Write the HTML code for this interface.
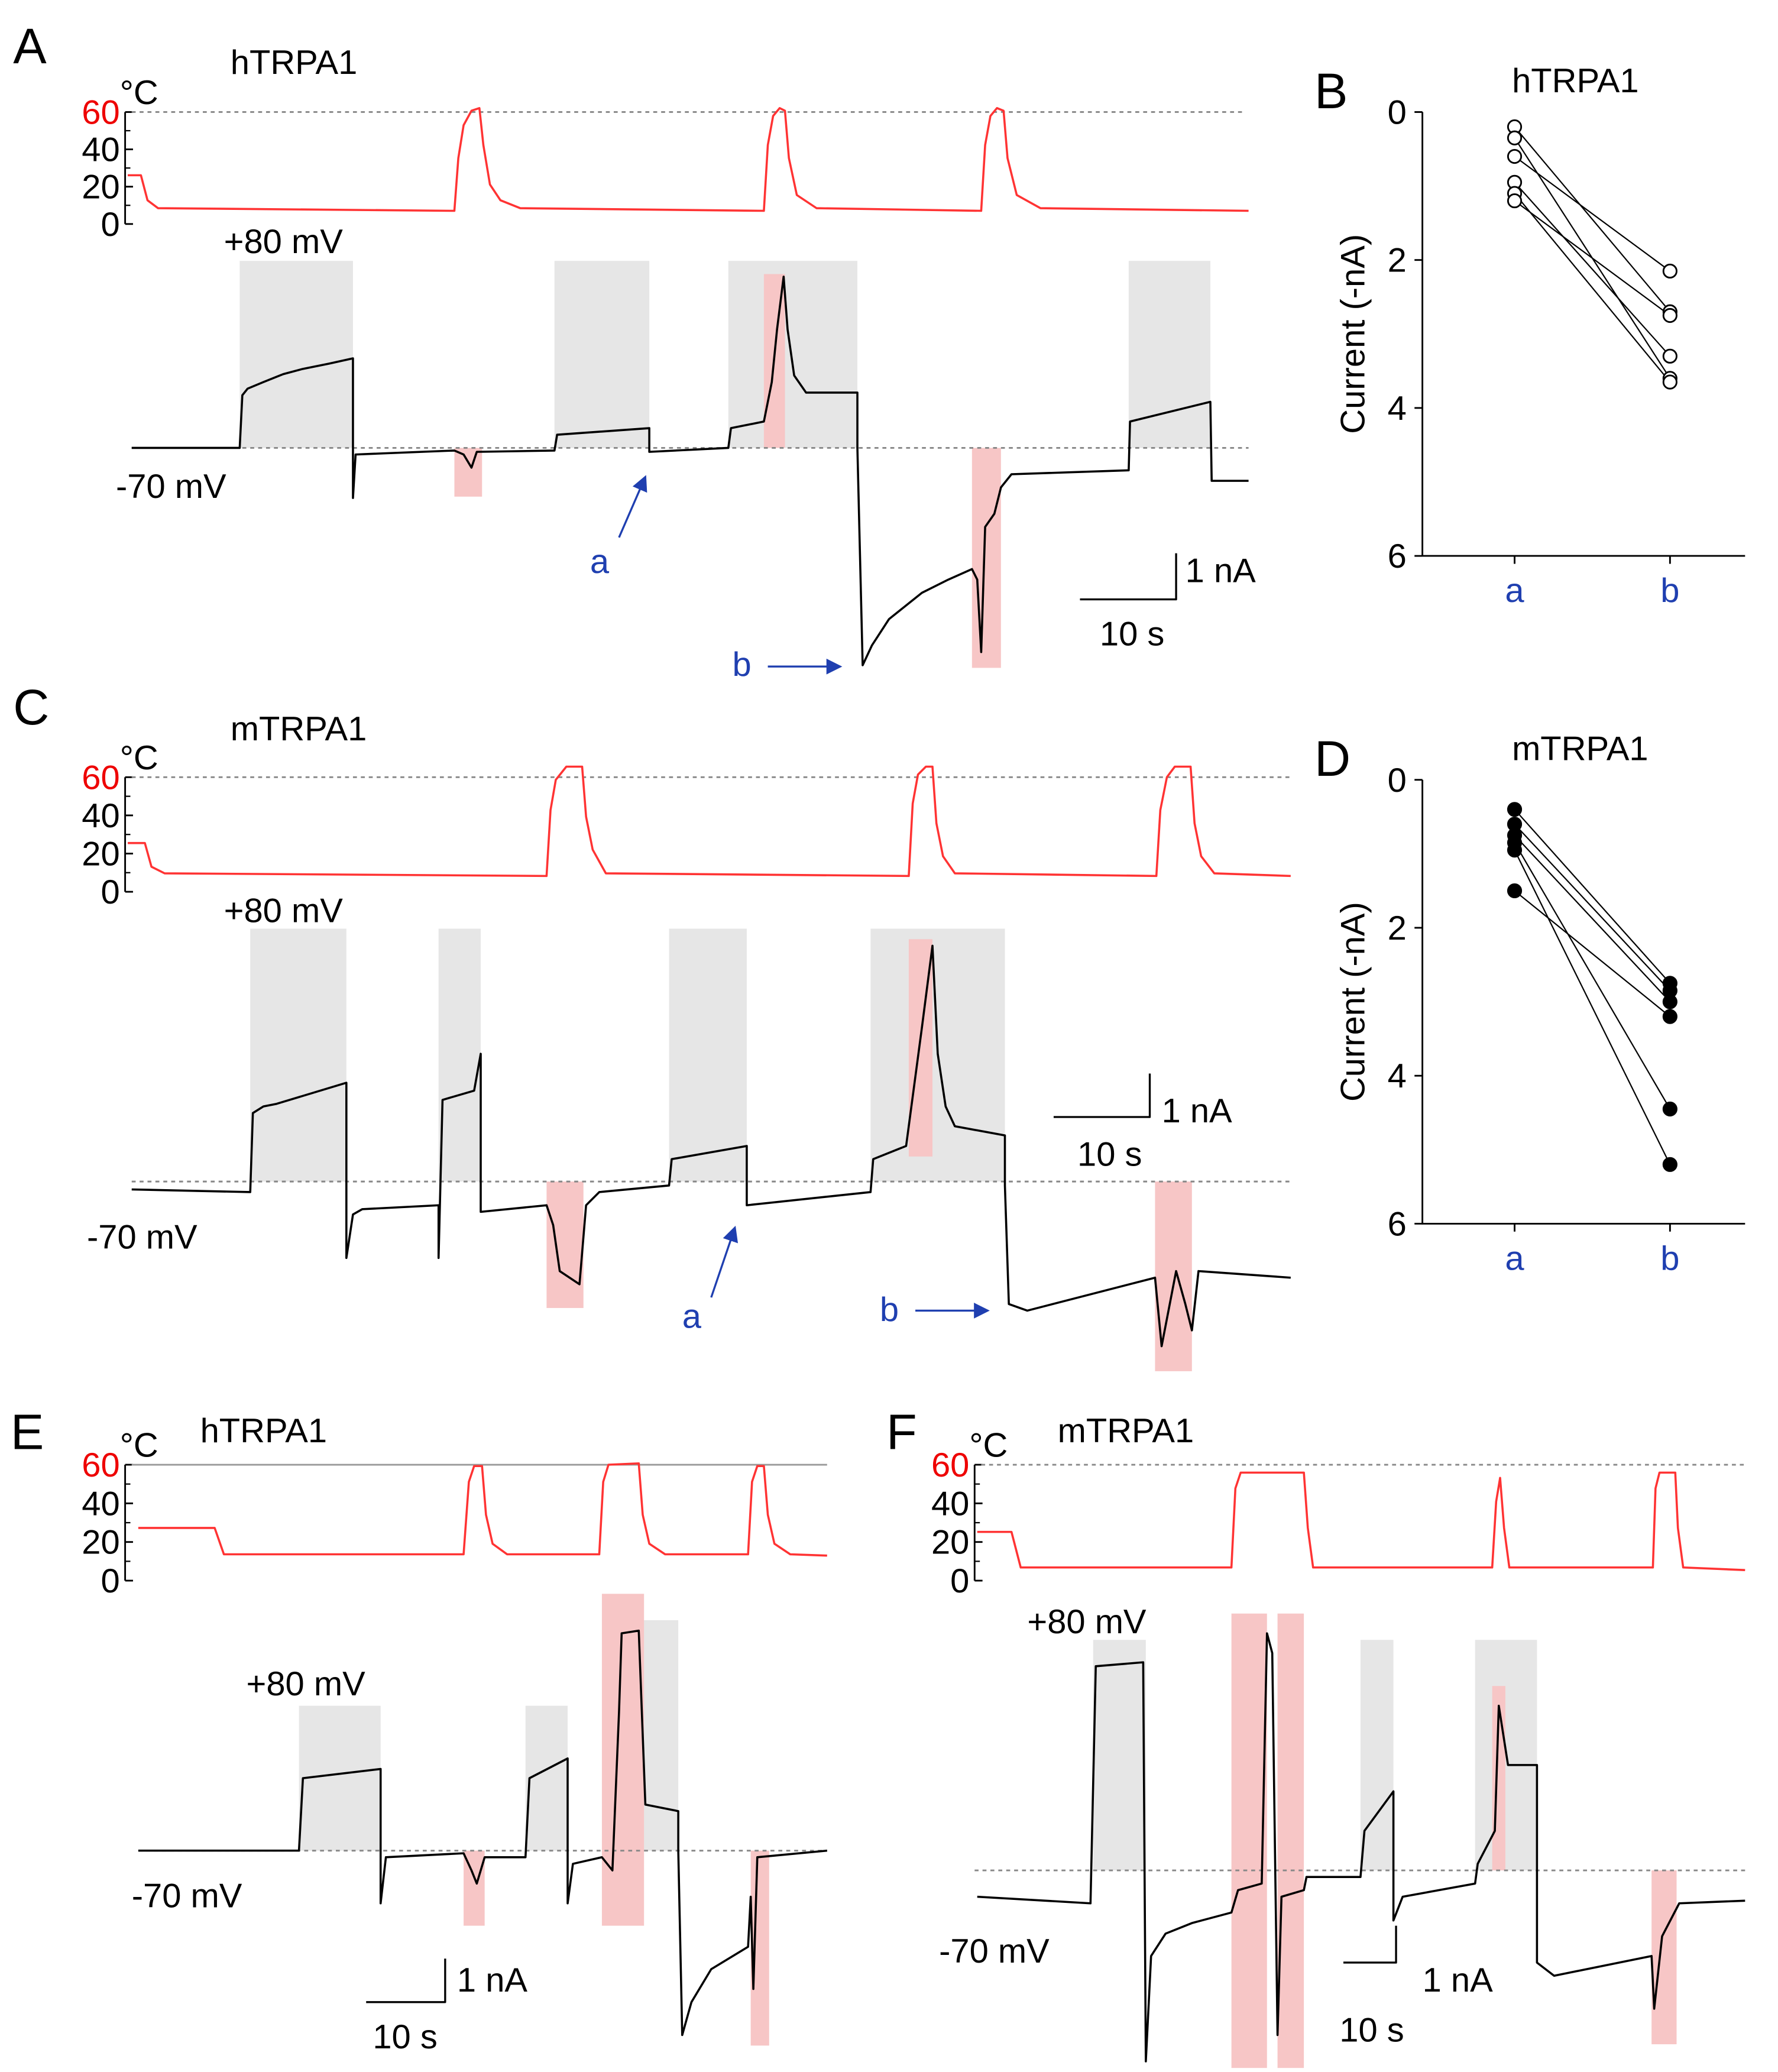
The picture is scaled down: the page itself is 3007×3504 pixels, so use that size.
<!DOCTYPE html>
<html><head><meta charset="utf-8"><style>
html,body{margin:0;padding:0;background:#fff;}
svg{display:block;font-family:"Liberation Sans",sans-serif;}
</style></head><body>
<svg id="fig" width="3007" height="3504" viewBox="0 0 1350 1573" xmlns="http://www.w3.org/2000/svg">
<defs><marker id="ah" markerWidth="8" markerHeight="8" refX="7" refY="4" orient="auto"><path d="M0,0 L8,4 L0,8 z" fill="#1f3fb0"/></marker></defs>
<g id="traces"></g>
<g id="dots"></g>
</svg>
<script>
// Panel B / D data (current, -nA)
const bA = [0.2, 0.35, 0.6, 0.95, 1.1, 1.2];
const bB = [2.7, 3.6, 2.15, 3.3, 3.65, 2.75];
const dA = [0.4, 0.6, 0.75, 0.85, 0.95, 1.5];
const dB = [2.75, 2.85, 3.0, 4.45, 5.2, 3.2];
const yTicks = [0, 2, 4, 6];
const xCats = ['a', 'b'];

const NS = 'http://www.w3.org/2000/svg';
const T = document.getElementById('traces');
const D = document.getElementById('dots');
function mk(tag, attrs, parent, text){
  const e = document.createElementNS(NS, tag);
  for (const k in attrs) e.setAttribute(k, attrs[k]);
  if (text !== undefined) e.textContent = text;
  parent.appendChild(e);
  return e;
}
function txt(x,y,s,size,fill,name,anchor){
  const e = mk('text',{x:x,y:y,'font-size':size,fill:fill||'#000','text-anchor':anchor||'start'},T,s);
  
  
  return e;
}
function rect(x1,y1,x2,y2,fill,name){
  const e = mk('rect',{x:x1,y:y1,width:x2-x1,height:y2-y1,fill:fill},T);
  
  
}
function line(pts,stroke,w,name,dash){
  const a = {points:pts,fill:'none',stroke:stroke,'stroke-width':w,'stroke-linejoin':'round'};
  if (dash) a['stroke-dasharray'] = dash;
  const e = mk('polyline',a,T);
  
  
}
function tempAxis(x,y0,y1,p){
  line(`${x},${y0} ${x},${y1}`,'#000',1.3,p+'-temp-axis');
  const lab=[60,40,20,0];
  for(let i=0;i<4;i++){
    const y=y0+(y1-y0)*i/3;
    line(`${x},${y} ${x+6},${y}`,'#000',1.3,p+'-temp-tick');
    txt(x-4,y+9,String(lab[i]),26,i===0?'#e00':'#000',p+'-temp-label','end');
  }
  for(let i=0;i<3;i++){const y=y0+(y1-y0)*(i+0.5)/3; line(`${x},${y} ${x+4},${y}`,'#000',1,p+'-temp-minor');}
  txt(x-4,y0-6,'°C',26,'#000',p+'-temp-unit');
}
const G='#e6e6e6', P='#f7c6c6';
// Panel A
txt(10,48,'A',38,'#000','panel-a-label');
txt(175,56,'hTRPA1',26,'#000','panel-a-title');
tempAxis(95,85,170,'a');
line('100,85 945,85','#888',1.3,'a-60-line','3,3');
line('97,133 107,133 112,152 120,158 345,160 348,120 352,95 358,84 364,82 367,110 372,140 380,152 395,158 580,160 583,110 587,88 592,82 596,84 599,120 605,148 620,158 745,160 748,110 752,88 757,82 762,84 765,120 772,148 790,158 948,160','#f33',1.6,'a-temp-trace');
rect(182,198,268,340,G,'a-gray-80mv');rect(421,198,493,340,G,'a-gray-80mv');rect(553,198,651,340,G,'a-gray-80mv');rect(857,198,919,340,G,'a-gray-80mv');
rect(345,340,366,377,P,'a-pink-heat');rect(580,208,596,340,P,'a-pink-heat');rect(738,340,760,507,P,'a-pink-heat');
line('100,340 948,340','#888',1.3,'a-baseline','3,3');
line('100,340 182,340 184,300 188,295 200,290 215,284 230,280 250,276 268,272 268,378 270,345 345,342 352,345 358,355 362,343 421,342 423,330 493,325 493,343 553,340 555,325 580,320 586,290 590,250 595,210 598,250 603,285 612,298 651,298 651,340 655,505 662,490 675,470 700,450 720,440 738,432 742,440 745,495 748,400 755,390 760,370 768,360 857,357 858,320 919,305 920,365 948,365','#000',1.6,'a-current-trace');
txt(170,192,'+80 mV',26,'#000','a-80mv-label');txt(88,378,'-70 mV',26,'#000','a-70mv-label');
mk('line',{x1:470,y1:408,x2:490,y2:362,stroke:'#1f3fb0','stroke-width':1.5,'marker-end':'url(#ah)'},T);
txt(448,435,'a',26,'#1f3fb0','a-arrow-a');txt(556,513,'b',26,'#1f3fb0','a-arrow-b');
mk('line',{x1:583,y1:506,x2:638,y2:506,stroke:'#1f3fb0','stroke-width':1.5,'marker-end':'url(#ah)'},T);
line('820,455 893,455 893,420','#000',1.5,'a-scale-bar');txt(900,442,'1 nA',26,'#000','a-scale-na');txt(835,490,'10 s',26,'#000','a-scale-s');
// Panel C
txt(10,550,'C',38,'#000','panel-c-label');
txt(175,562,'mTRPA1',26,'#000','panel-c-title');
tempAxis(95,590,677,'c');
line('100,590 980,590','#888',1.3,'c-60-line','3,3');
line('97,640 110,640 115,658 125,663 415,665 418,615 422,592 430,582 442,582 445,620 450,645 460,663 690,665 693,610 697,588 703,582 708,582 711,625 716,650 725,663 878,665 881,615 886,590 892,582 904,582 907,625 912,650 922,663 980,665','#f33',1.6,'c-temp-trace');
rect(190,705,263,897,G,'c-gray-80mv');rect(333,705,365,897,G,'c-gray-80mv');rect(508,705,567,897,G,'c-gray-80mv');rect(661,705,763,897,G,'c-gray-80mv');
rect(415,897,443,993,P,'c-pink-heat');rect(690,713,708,878,P,'c-pink-heat');rect(877,897,905,1041,P,'c-pink-heat');
line('100,897 980,897','#888',1.3,'c-baseline','3,3');
line('100,903 190,905 192,845 200,840 210,838 263,822 263,955 268,922 275,918 333,915 333,955 336,835 360,828 365,800 365,920 415,915 420,930 425,965 440,975 445,915 455,905 508,900 510,880 567,870 567,915 661,905 663,880 688,870 700,780 708,718 712,800 718,840 725,855 763,862 763,900 766,990 780,995 877,970 882,1022 893,965 900,990 905,1010 910,965 980,970','#000',1.6,'c-current-trace');
txt(170,700,'+80 mV',26,'#000','c-80mv-label');txt(66,948,'-70 mV',26,'#000','c-70mv-label');
mk('line',{x1:540,y1:985,x2:558,y2:932,stroke:'#1f3fb0','stroke-width':1.5,'marker-end':'url(#ah)'},T);
txt(518,1008,'a',26,'#1f3fb0','c-arrow-a');txt(668,1003,'b',26,'#1f3fb0','c-arrow-b');
mk('line',{x1:695,y1:995,x2:750,y2:995,stroke:'#1f3fb0','stroke-width':1.5,'marker-end':'url(#ah)'},T);
line('800,848 873,848 873,815','#000',1.5,'c-scale-bar');txt(882,852,'1 nA',26,'#000','c-scale-na');txt(818,885,'10 s',26,'#000','c-scale-s');
// Panel E
txt(8,1100,'E',38,'#000','panel-e-label');
txt(152,1095,'hTRPA1',26,'#000','panel-e-title');
tempAxis(95,1112,1200,'e');
line('100,1112 628,1112','#999',1.3,'e-60-line');
line('105,1160 163,1160 170,1180 352,1180 356,1125 360,1113 366,1113 369,1150 374,1172 385,1180 455,1180 458,1125 462,1112 485,1111 488,1150 493,1172 505,1180 568,1180 571,1125 575,1113 580,1113 583,1150 588,1172 600,1180 628,1181','#f33',1.6,'e-temp-trace');
rect(227,1295,289,1405,G,'e-gray-80mv');rect(399,1295,431,1405,G,'e-gray-80mv');rect(487,1230,515,1405,G,'e-gray-80mv');
rect(352,1405,368,1462,P,'e-pink-heat');rect(457,1210,489,1462,P,'e-pink-heat');rect(570,1405,584,1553,P,'e-pink-heat');
line('105,1405 628,1405','#888',1.3,'e-baseline','3,3');
line('105,1405 227,1405 230,1350 289,1343 289,1445 293,1410 352,1407 358,1420 362,1430 368,1410 399,1410 402,1350 431,1335 431,1445 435,1415 457,1410 465,1420 470,1300 472,1240 485,1238 490,1370 515,1375 515,1405 518,1545 525,1520 540,1495 568,1478 570,1440 572,1510 575,1410 628,1405','#000',1.6,'e-current-trace');
txt(187,1287,'+80 mV',26,'#000','e-80mv-label');txt(100,1448,'-70 mV',26,'#000','e-70mv-label');
line('278,1520 338,1520 338,1487','#000',1.5,'e-scale-bar');txt(347,1512,'1 nA',26,'#000','e-scale-na');txt(283,1555,'10 s',26,'#000','e-scale-s');
// Panel F
txt(673,1100,'F',38,'#000','panel-f-label');
txt(803,1095,'mTRPA1',26,'#000','panel-f-title');
tempAxis(740,1112,1200,'f');
line('745,1112 1325,1112','#888',1.3,'f-60-line','3,3');
line('742,1163 768,1163 775,1190 935,1190 938,1130 942,1118 990,1118 993,1160 997,1190 1133,1190 1136,1140 1139,1122 1142,1160 1146,1190 1255,1190 1257,1130 1260,1118 1272,1118 1274,1160 1278,1190 1325,1192','#f33',1.6,'f-temp-trace');
rect(830,1245,870,1420,G,'f-gray-80mv');rect(1033,1245,1058,1420,G,'f-gray-80mv');rect(1120,1245,1167,1420,G,'f-gray-80mv');
rect(935,1225,962,1570,P,'f-pink-heat');rect(970,1225,990,1570,P,'f-pink-heat');rect(1133,1280,1143,1420,P,'f-pink-heat');rect(1254,1420,1273,1552,P,'f-pink-heat');
line('740,1420 1325,1420','#888',1.3,'f-baseline','3,3');
line('742,1440 828,1445 832,1265 868,1262 870,1565 874,1485 885,1468 905,1460 935,1452 940,1435 958,1430 962,1240 966,1255 970,1545 973,1440 990,1435 992,1425 1033,1425 1036,1390 1058,1360 1058,1458 1065,1440 1120,1430 1122,1415 1135,1390 1138,1295 1145,1340 1167,1340 1167,1490 1180,1500 1254,1485 1256,1525 1262,1470 1275,1445 1325,1443','#000',1.6,'f-current-trace');
txt(780,1240,'+80 mV',26,'#000','f-80mv-label');txt(713,1490,'-70 mV',26,'#000','f-70mv-label');
line('1020,1490 1060,1490 1060,1462','#000',1.5,'f-scale-bar');txt(1080,1512,'1 nA',26,'#000','f-scale-na');txt(1017,1550,'10 s',26,'#000','f-scale-s');

// Paired plots
function paired(p, letter, title, y0, va, vb, filled){
  const yb = y0 + 337, xA = 1150, xB = 1268;
  const ys = v => y0 + v * (yb - y0) / 6;
  const xs = i => i === 0 ? xA : xB;
  txt(998,y0-3,letter,38,'#000','panel-'+p+'-label');
  txt(1148,y0-15,title,26,'#000','panel-'+p+'-title');
  line(`1080,${y0} 1080,${yb} 1325,${yb}`,'#000',1.3,p+'-axes');
  yTicks.forEach(t=>{
    line(`1074,${ys(t)} 1080,${ys(t)}`,'#000',1.3,p+'-y-tick');
    txt(1068,ys(t)+9,String(t),26,'#000',p+'-y-tick-label','end');
  });
  xCats.forEach((c,i)=>{
    line(`${xs(i)},${yb} ${xs(i)},${yb+6}`,'#000',1.3,p+'-x-tick');
    txt(xs(i),yb+35,c,26,'#1f3fb0',p+'-x-tick-label','middle');
  });
  const yt = mk('text',{x:0,y:0,'font-size':26,'text-anchor':'middle',transform:`translate(1036,${(y0+yb)/2}) rotate(-90)`},T,'Current (-nA)');
  
  
  va.forEach((v,i)=>{
    const l = mk('line',{x1:xA,y1:ys(v),x2:xB,y2:ys(vb[i]),stroke:'#000','stroke-width':1},D);
    
    
  });
  va.forEach((v,i)=>{
    [[xA,v],[xB,vb[i]]].forEach(([x,val])=>{
      const c = mk('circle',{cx:x,cy:ys(val),r:5,fill:filled?'#000':'#fff',stroke:'#000','stroke-width':1.3},D);
      
      
    });
  });
}
paired('b','B','hTRPA1',85,bA,bB,false);
paired('d','D','mTRPA1',592,dA,dB,true);
</script>
</body></html>
